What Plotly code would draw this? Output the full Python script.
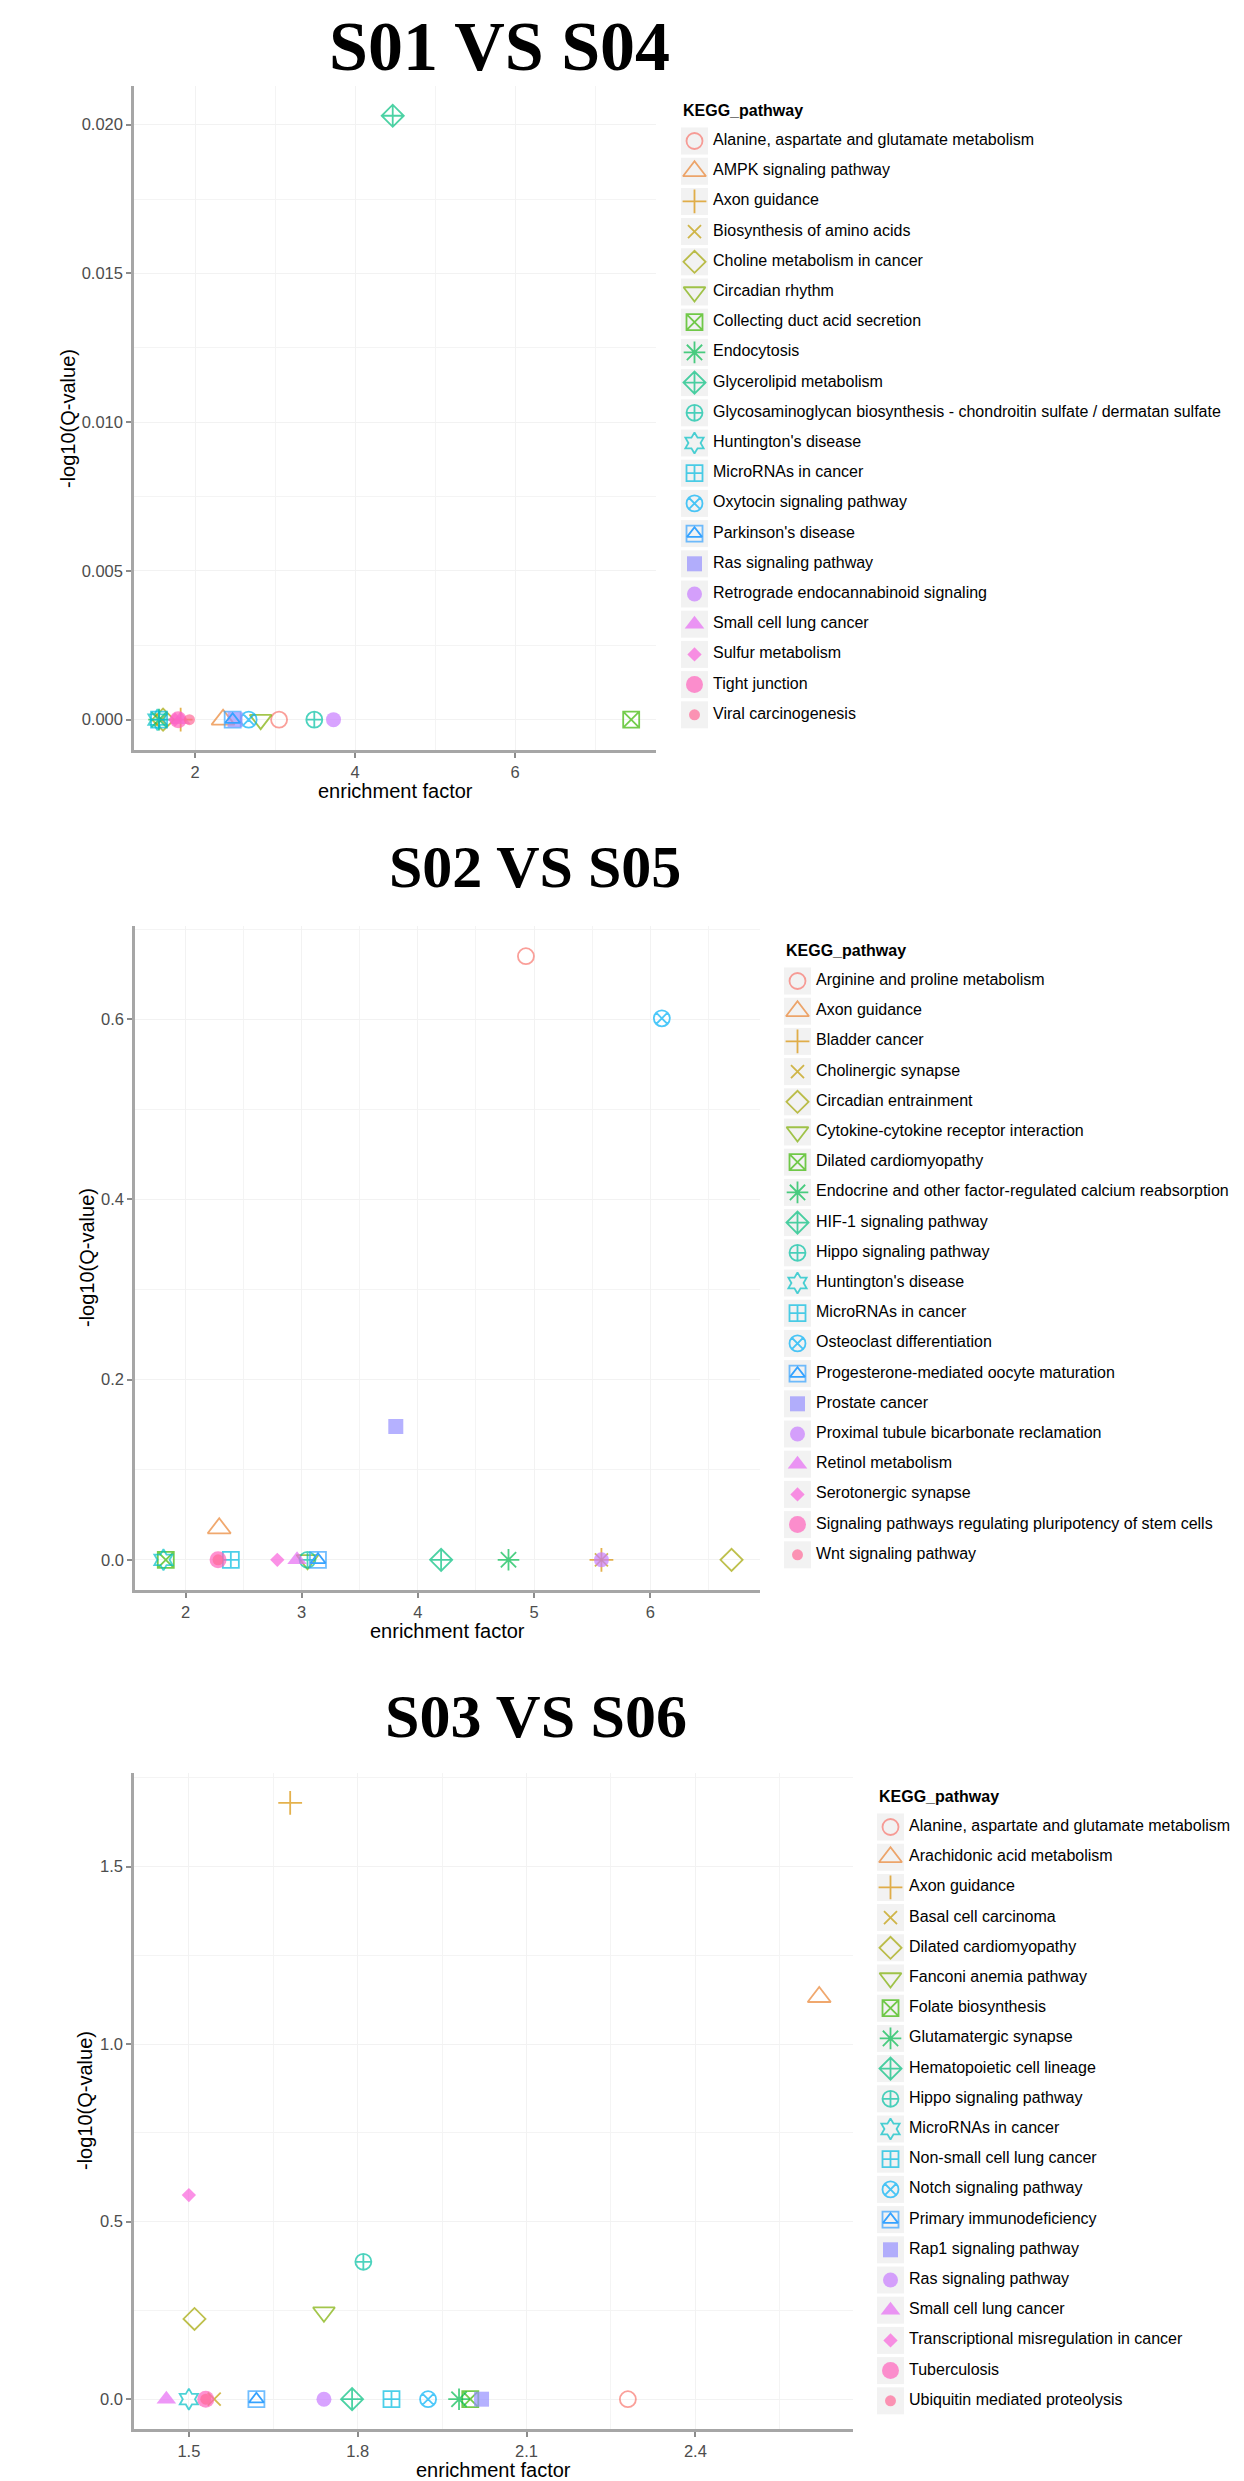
import plotly.graph_objects as go

W, H = 1244, 2481

# ggplot hue palette (20 levels) and shapes 1..20
palette = ['#F8766D', '#EA8331', '#D89000', '#C09B00', '#A3A500', '#7CAE00', '#39B600', '#00BB4E',
           '#00BF7D', '#00C1A3', '#00BFC4', '#00BAE0', '#00B0F6', '#35A2FF', '#9590FF', '#C77CFF',
           '#E76BF3', '#FA62DB', '#FF62BC', '#FF6A98']
symbols = ['circle-open', 'triangle-up-open', 'cross-thin-open', 'x-thin-open', 'diamond-open',
           'triangle-down-open', 'square-x-open', 'asterisk-open', 'diamond-cross-open', 'circle-cross-open',
           'hexagram-open', 'square-cross-open', 'circle-x-open', 'square-open', 'square', 'circle',
           'triangle-up', 'diamond', 'circle', 'circle']
sizes = [16, 20, 17, 13, 17, 19, 16, 18, 17, 16, 16, 16, 16, 16, 15, 15, 17, 11, 17, 11]
is_open = [s.endswith('-open') for s in symbols]

# S01 VS S04
p1_pathways = ['Alanine, aspartate and glutamate metabolism', 'AMPK signaling pathway', 'Axon guidance',
               'Biosynthesis of amino acids', 'Choline metabolism in cancer', 'Circadian rhythm',
               'Collecting duct acid secretion', 'Endocytosis', 'Glycerolipid metabolism',
               'Glycosaminoglycan biosynthesis - chondroitin sulfate / dermatan sulfate',
               "Huntington's disease", 'MicroRNAs in cancer', 'Oxytocin signaling pathway',
               "Parkinson's disease", 'Ras signaling pathway', 'Retrograde endocannabinoid signaling',
               'Small cell lung cancer', 'Sulfur metabolism', 'Tight junction', 'Viral carcinogenesis']
p1_factor = [3.05, 2.35, 1.82, 1.58, 1.60, 2.82, 7.45, 1.55, 4.47, 3.49,
             1.53, 1.55, 2.67, 2.47, 2.50, 3.73, 1.82, 1.75, 1.79, 1.93]
p1_q = [0, 0, 0, 0, 0, 0, 0, 0, 0.0203, 0,
        0, 0, 0, 0, 0, 0, 0, 0, 0, 0]

# S02 VS S05
p2_pathways = ['Arginine and proline metabolism', 'Axon guidance', 'Bladder cancer', 'Cholinergic synapse',
               'Circadian entrainment', 'Cytokine-cytokine receptor interaction', 'Dilated cardiomyopathy',
               'Endocrine and other factor-regulated calcium reabsorption', 'HIF-1 signaling pathway',
               'Hippo signaling pathway', "Huntington's disease", 'MicroRNAs in cancer',
               'Osteoclast differentiation', 'Progesterone-mediated oocyte maturation', 'Prostate cancer',
               'Proximal tubule bicarbonate reclamation', 'Retinol metabolism', 'Serotonergic synapse',
               'Signaling pathways regulating pluripotency of stem cells', 'Wnt signaling pathway']
p2_factor = [4.93, 2.29, 5.58, 5.58, 6.70, 3.05, 1.83, 4.78, 4.20, 3.05,
             1.81, 2.39, 6.10, 3.14, 3.81, 5.58, 2.96, 2.79, 2.28, 2.28]
p2_q = [0.670, 0.035, 0, 0, 0, 0, 0, 0, 0, 0,
        0, 0, 0.601, 0, 0.148, 0, 0, 0, 0, 0]

# S03 VS S06
p3_pathways = ['Alanine, aspartate and glutamate metabolism', 'Arachidonic acid metabolism', 'Axon guidance',
               'Basal cell carcinoma', 'Dilated cardiomyopathy', 'Fanconi anemia pathway', 'Folate biosynthesis',
               'Glutamatergic synapse', 'Hematopoietic cell lineage', 'Hippo signaling pathway',
               'MicroRNAs in cancer', 'Non-small cell lung cancer', 'Notch signaling pathway',
               'Primary immunodeficiency', 'Rap1 signaling pathway', 'Ras signaling pathway',
               'Small cell lung cancer', 'Transcriptional misregulation in cancer', 'Tuberculosis',
               'Ubiquitin mediated proteolysis']
p3_factor = [2.28, 2.62, 1.68, 1.545, 1.51, 1.74, 2.00, 1.98, 1.79, 1.81,
             1.50, 1.86, 1.925, 1.62, 2.02, 1.74, 1.46, 1.50, 1.53, 1.53]
p3_q = [0, 1.133, 1.68, 0, 0.226, 0.245, 0, 0, 0, 0.387,
        0, 0, 0, 0, 0, 0, 0, 0.575, 0, 0]

titles = ['S01 VS S04', 'S02 VS S05', 'S03 VS S06']

# pixel layout: plot box (left, right, top, bottom), legend key left / first row, title centre and size,
# x-title centre y, y-title centre x
panels = [
    dict(data=(p1_pathways, p1_factor, p1_q), box=(126, 648, 78, 742), xr=[1.237, 7.76], yr=[-0.00102, 0.0213],
         xt=dict(dtick=2, tick0=0, tickformat='d'), xm=1, yt=dict(dtick=0.005, tick0=0, tickformat='.3f'), ym=0.0025,
         leg=(673, 133), tc=(491, 38, 70), xty=783, ytx=60),
    dict(data=(p2_pathways, p2_factor, p2_q), box=(127, 752, 918, 1582), xr=[1.565, 6.945], yr=[-0.0335, 0.7035],
         xt=dict(dtick=1, tick0=0, tickformat='d'), xm=0.5, yt=dict(dtick=0.2, tick0=0, tickformat='.1f'), ym=0.1,
         leg=(776, 973), tc=(527, 859, 60), xty=1623, ytx=79),
    dict(data=(p3_pathways, p3_factor, p3_q), box=(126, 845, 1765, 2421), xr=[1.4025, 2.68], yr=[-0.084, 1.764],
         xt=dict(dtick=0.3, tick0=1.5, tickformat='.1f'), xm=0.15, yt=dict(dtick=0.5, tick0=0, tickformat='.1f'), ym=0.25,
         leg=(869, 1819), tc=(528, 1708, 62), xty=2462, ytx=77),
]

FONT = 'Liberation Sans, Arial, Helvetica, sans-serif'
ROW = 30.2
LW = 1.8

fig = go.Figure()
layout = dict(width=W, height=H, margin=dict(l=0, r=0, t=0, b=0), plot_bgcolor='white',
              paper_bgcolor='white', showlegend=False, annotations=[])
ann = layout['annotations']

for i, p in enumerate(panels):
    names, fx, q = p['data']
    n = i + 1
    xa, ya = f'x{n}', f'y{n}'
    line_w = [LW if o else 0 for o in is_open]

    fig.add_trace(go.Scatter(x=fx, y=q, mode='markers', xaxis=xa, yaxis=ya, text=names,
                             marker=dict(symbol=symbols, size=sizes, color=palette,
                                         line=dict(color=palette, width=line_w)),
                             hovertemplate='%{text}<br>%{x}, %{y}<extra></extra>'))
    # inner triangle of shape 14
    fig.add_trace(go.Scatter(x=[fx[13]], y=[q[13]], mode='markers', xaxis=xa, yaxis=ya, hoverinfo='skip',
                             marker=dict(symbol='triangle-up-open', size=13, color=palette[13],
                                         line=dict(color=palette[13], width=LW))))

    l, r, t, b = p['box']
    axis_font = dict(family=FONT, size=16.5, color='#4D4D4D')
    common = dict(showline=True, linecolor='#A6A6A6', linewidth=2.5, ticks='outside', ticklen=5,
                  tickwidth=1.5, tickcolor='#8C8C8C', tickfont=axis_font, showgrid=True,
                  gridcolor='#F2F2F2', gridwidth=1.2, zeroline=False)
    layout[f'xaxis{n}'] = dict(common, domain=[l / W, r / W], range=p['xr'], anchor=ya, **p['xt'],
                               minor=dict(dtick=p['xm'], tick0=p['xt']['tick0'], showgrid=True,
                                          gridcolor='#F4F4F4', gridwidth=1.2))
    layout[f'yaxis{n}'] = dict(common, domain=[1 - b / H, 1 - t / H], range=p['yr'], anchor=xa, **p['yt'],
                               minor=dict(dtick=p['ym'], tick0=0, showgrid=True,
                                          gridcolor='#F4F4F4', gridwidth=1.2))

    title_font = dict(family=FONT, size=20, color='black')
    ann.append(dict(text='enrichment factor', xref='paper', yref='paper', x=(l + r) / 2 / W,
                    y=1 - p['xty'] / H, xanchor='center', yanchor='middle', showarrow=False, font=title_font))
    ann.append(dict(text='-log10(Q-value)', xref='paper', yref='paper', x=p['ytx'] / W,
                    y=1 - (t + b) / 2 / H, xanchor='center', yanchor='middle', textangle=-90,
                    showarrow=False, font=title_font))

    # panel title
    tx, ty, ts = p['tc']
    ann.append(dict(text=f'<b>{titles[i]}</b>', xref='paper', yref='paper', x=tx / W,
                    y=1 - ty / H, xanchor='center', yanchor='middle', showarrow=False,
                    font=dict(family='Liberation Serif, Times New Roman, serif', size=ts, color='black')))

    # ggplot-style legend drawn on its own hidden axes
    key_left, first = p['leg']
    lx, ly = f'x{n + 3}', f'y{n + 3}'
    top = first - 1.5 * ROW
    bottom = top + 21 * ROW
    layout[f'xaxis{n + 3}'] = dict(domain=[key_left / W, 1], range=[0, W - key_left], visible=False,
                                   anchor=ly, fixedrange=True)
    layout[f'yaxis{n + 3}'] = dict(domain=[1 - bottom / H, 1 - top / H], range=[19.5, -1.5], visible=False,
                                   anchor=lx, fixedrange=True)
    rows = list(range(len(names)))
    fig.add_trace(go.Scatter(x=[13.5] * len(rows), y=rows, mode='markers', xaxis=lx, yaxis=ly, hoverinfo='skip',
                             marker=dict(symbol='square', size=27, color='#F2F2F2')))
    fig.add_trace(go.Scatter(x=[13.5] * len(rows), y=rows, mode='markers', xaxis=lx, yaxis=ly, hoverinfo='skip',
                             marker=dict(symbol=symbols, size=sizes, color=palette,
                                         line=dict(color=palette, width=line_w))))
    fig.add_trace(go.Scatter(x=[13.5], y=[13], mode='markers', xaxis=lx, yaxis=ly, hoverinfo='skip',
                             marker=dict(symbol='triangle-up-open', size=13, color=palette[13],
                                         line=dict(color=palette[13], width=LW))))
    fig.add_trace(go.Scatter(x=[32] * len(rows), y=rows, mode='text', xaxis=lx, yaxis=ly, hoverinfo='skip',
                             text=names, textposition='middle right',
                             textfont=dict(family=FONT, size=16, color='black')))
    ann.append(dict(text='<b>KEGG_pathway</b>', xref=lx, yref=ly, x=0, y=-1,
                    xanchor='left', yanchor='middle', showarrow=False,
                    font=dict(family=FONT, size=16, color='black')))

fig.update_layout(**layout)
fig.write_html('out.html')
